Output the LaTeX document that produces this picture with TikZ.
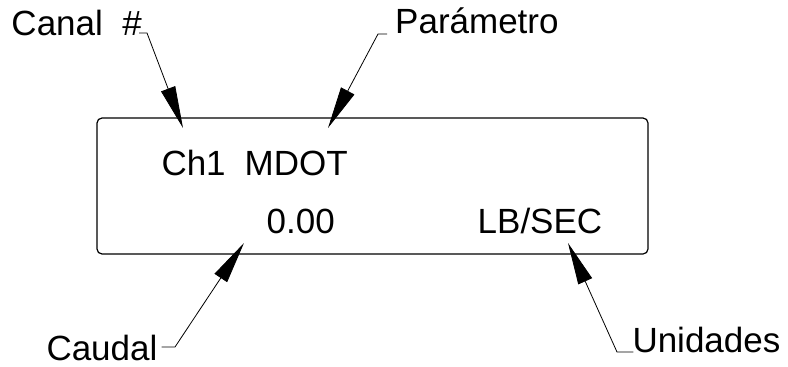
\documentclass[tikz,border=0pt]{standalone}
\usepackage{fontspec}
\setmainfont{Liberation Sans}
\usetikzlibrary{arrows.meta}
\begin{document}
\begin{tikzpicture}[x=1pt,y=-1pt,
  txt/.style={inner sep=0pt, anchor=base west, font=\fontsize{35}{40}\selectfont},
  leader/.style={line width=0.8pt, -{Triangle[length=42pt,width=15pt]}},
  display/.style={draw, line width=1.2pt, rounded corners=5pt, inner sep=0pt,
    minimum width=551pt, minimum height=136pt}]
\useasboundingbox (0,0) rectangle (788,367);
% display box
\node[display] (disp) at (372.5,186) {};
% display texts
\node[txt] (ch) at (161.3,175) {Ch1\hspace{19pt}MDOT};
\node[txt] (val) at (266.5,233) {0.00};
\node[txt] (unit) at (477.5,233) {LB/SEC};
% labels
\node[txt] (canal) at (11.3,35) {Canal\ \ \#};
\node[txt] (param) at (395,33) {Parámetro};
\node[txt] (caudal) at (46.3,360) {Caudal};
\node[txt] (unid) at (632.3,352) {Unidades};
% bends and tips
\coordinate (bA) at (147,33);
\coordinate (tA) at (183,128);
\coordinate (bB) at (378,34);
\coordinate (tB) at (328,128);
\coordinate (bC) at (175,347);
\coordinate (tC) at (244,243);
\coordinate (bD) at (617,352);
\coordinate (tD) at (568,243);
% leaders
\draw[leader] ([shift={(-3pt,2pt)}]canal.base east) -- (bA) -- (tA);
\draw[leader] ([shift={(-8pt,-1pt)}]param.base west) -- (bB) -- (tB);
\draw[leader] ([shift={(4pt,13pt)}]caudal.base east) -- (bC) -- (tC);
\draw[leader] ([xshift=1pt]unid.base west) -- (bD) -- (tD);
\end{tikzpicture}
\end{document}
